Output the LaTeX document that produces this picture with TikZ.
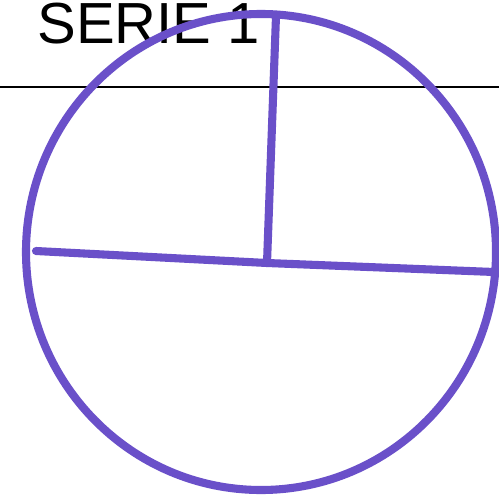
\documentclass[tikz,border=0pt]{standalone}
\usepackage{fontspec}
\setmainfont{Liberation Sans}
\usepackage{tikz}
\usetikzlibrary{positioning,calc}
\definecolor{pen}{HTML}{6A50C9}

\begin{document}
\begin{tikzpicture}[
    x=0.02cm,y=-0.02cm,
    title/.style={anchor=base west,inner sep=0pt,font=\fontsize{33}{33}\selectfont},
    rule/.style={black,line width=1.4pt},
    stroke/.style={pen,line width=4.6pt,line cap=round,line join=round}
]
\clip (0,0) rectangle (499,500);
\fill[white] (0,0) rectangle (499,500);

% Heading and rule
\node[title] (head) at (37,44) {SERIE 1};
\draw[rule] (0,87) -- (499,87);

% Circle
\draw[stroke] (261,252) ellipse [x radius=235, y radius=238];

% Spokes
\coordinate (mid)   at (267,263);
\coordinate (top)   at (276,16);
\coordinate (left)  at (36,251);
\coordinate (right) at (494,272);

\draw[stroke] (top) -- (mid);
\draw[stroke] (left) -- (mid) -- (right);
\end{tikzpicture}
\end{document}
